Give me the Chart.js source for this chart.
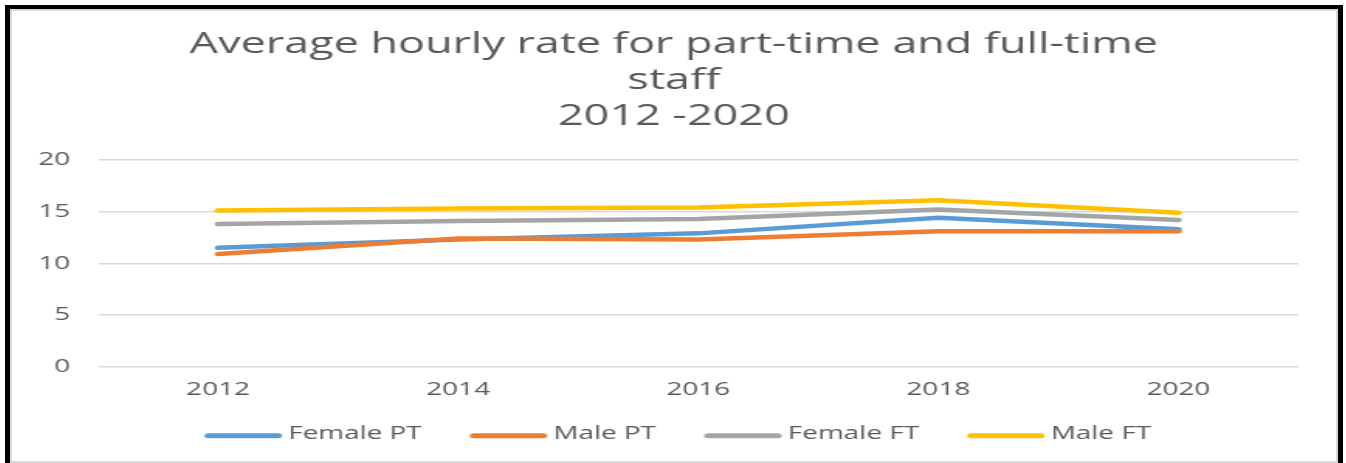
<!DOCTYPE html>
<html>
<head>
<meta charset="utf-8">
<script src="https://cdn.jsdelivr.net/npm/chart.js@4"></script>
<style>
  body { margin: 0; background: #fff; }
  #frame {
    position: absolute; left: 5px; top: 5px;
    width: 1328px; height: 454px;
    border-left: 5px solid #000; border-top: 4px solid #000; border-right: 5px solid #000;
  }
  #inner {
    box-sizing: border-box; width: 1328px; height: 454px;
    border: 2px solid #d9d9d9; background: #fff; overflow: hidden;
  }
  /* the original picture is stretched sideways, so stretch the chart too */
  #stretch { width: 854px; height: 450px; transform: scaleX(1.55); transform-origin: 0 0; }
</style>
</head>
<body>
<div id="frame"><div id="inner"><div id="stretch">
  <canvas id="myChart" width="854" height="450"></canvas>
</div></div></div>
<script>
// values
const years = ['2012', '2014', '2016', '2018', '2020'];
const femalePT = [11.5, 12.3, 12.9, 14.4, 13.3];
const malePT = [10.9, 12.4, 12.3, 13.1, 13.1];
const femaleFT = [13.8, 14.1, 14.3, 15.2, 14.2];
const maleFT = [15.1, 15.3, 15.4, 16.1, 14.9];
const yTicks = [0, 5, 10, 15, 20];

const textColor = '#595959';
Chart.defaults.font.family = '"Open Sans", sans-serif';
Chart.defaults.color = textColor;

// legend sample: a short thick line that sits close to its text
function legendLine(color) {
  const c = document.createElement('canvas');
  c.width = 68;
  c.height = 10;
  const g = c.getContext('2d');
  g.strokeStyle = color;
  g.lineWidth = 5;
  g.lineCap = 'round';
  g.beginPath();
  g.moveTo(16.5, 6.8);
  g.lineTo(61.5, 6.8);
  g.stroke();
  return c;
}

function line(label, data, color, order) {
  return {
    label: label,
    data: data,
    borderColor: color,
    backgroundColor: color,
    borderWidth: 4.5,
    borderCapStyle: 'round',
    borderJoinStyle: 'round',
    pointRadius: 0,
    pointStyle: legendLine(color),
    tension: 0,
    order: order
  };
}

const ctx = document.getElementById('myChart').getContext('2d');
const myChart = new Chart(ctx, {
  type: 'line',
  data: {
    labels: years,
    datasets: [
      line('Female PT', femalePT, '#5B9BD5', 4),
      line('Male PT', malePT, '#ED7D31', 3),
      line('Female FT', femaleFT, '#A5A5A5', 2),
      line('Male FT', maleFT, '#FFC000', 1)
    ]
  },
  options: {
    responsive: false,
    animation: false,
    layout: { padding: { left: 0, right: 0, top: 0, bottom: 8 } },
    plugins: {
      tooltip: { enabled: false },
      title: {
        display: true,
        text: ['Average hourly rate for part-time and full-time', 'staff', '2012 -2020'],
        color: textColor,
        font: { size: 29, weight: 'normal', lineHeight: 1.24 },
        padding: { top: 16, bottom: 25 }
      },
      legend: {
        position: 'bottom',
        labels: {
          usePointStyle: true,
          pointStyleWidth: 50,
          font: { size: 18 },
          color: textColor,
          padding: 26,
          sort: (a, b) => a.datasetIndex - b.datasetIndex
        }
      }
    },
    scales: {
      x: {
        offset: true,
        afterFit: (axis) => { axis.height = axis.height - 13.5; },
        grid: { display: false, drawTicks: false },
        border: { display: false },
        ticks: { font: { size: 18 }, padding: 12, color: textColor }
      },
      y: {
        min: 0,
        max: 20,
        afterBuildTicks: (axis) => { axis.ticks = yTicks.map(v => ({ value: v })); },
        afterFit: (axis) => { axis.width = 55.5; },
        grid: { color: '#d9d9d9', lineWidth: 1.5, drawTicks: false },
        border: { display: false },
        ticks: { font: { size: 18 }, padding: 18, color: textColor }
      },
      // empty right-hand axis, only keeps the plot clear of the right edge
      yRight: {
        position: 'right',
        afterFit: (axis) => { axis.width = 24; },
        grid: { display: false, drawTicks: false },
        border: { display: false },
        ticks: { display: false }
      }
    }
  }
});
</script>
</body>
</html>
